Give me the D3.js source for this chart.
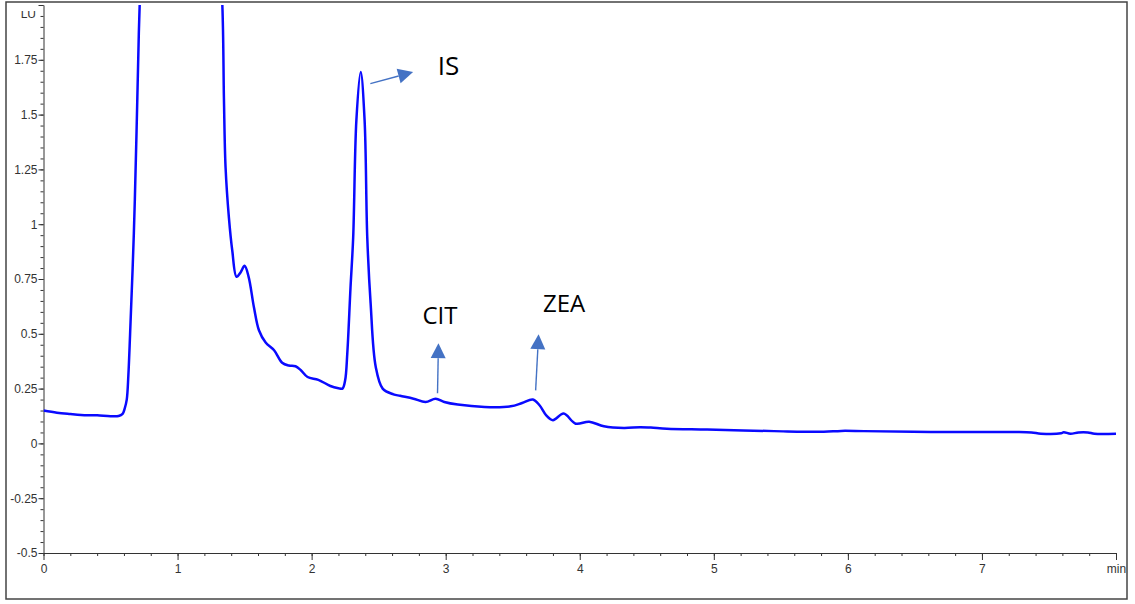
<!DOCTYPE html>
<html>
<head>
<meta charset="utf-8">
<script src="https://cdn.jsdelivr.net/npm/d3@7"></script>
<style>
  html, body { margin: 0; padding: 0; background: #fff; }
  svg { display: block; }
</style>
</head>
<body>
<svg id="chart" width="1135" height="604"></svg>
<script>
// ---- data ----
const times = [0, 0.1, 0.2, 0.28, 0.4, 0.5, 0.56, 0.59, 0.605, 0.621, 0.633, 0.646, 0.674, 0.694, 0.711, 0.72, 0.76, 0.85, 1.0, 1.15, 1.28,
  1.334, 1.346, 1.358, 1.383, 1.408, 1.44, 1.47, 1.5, 1.53, 1.57, 1.607, 1.657, 1.72, 1.78, 1.83, 1.88, 1.92, 1.97, 2.05, 2.14,
  2.2, 2.23, 2.25, 2.266, 2.29, 2.31, 2.334, 2.366, 2.395, 2.415, 2.44, 2.478, 2.53, 2.61, 2.66, 2.76, 2.85, 2.925, 2.99, 3.09,
  3.29, 3.485, 3.57, 3.65, 3.7, 3.75, 3.8, 3.88, 3.97, 4.07, 4.18, 4.33, 4.45, 4.53, 4.65, 4.95, 5.45, 5.82, 5.95, 6.12, 6.62,
  7.24, 7.37, 7.44, 7.59, 7.61, 7.66, 7.72, 7.79, 7.84, 8.0];
const signal = [0.15, 0.14, 0.134, 0.13, 0.128, 0.124, 0.125, 0.135, 0.158, 0.2, 0.31, 0.50, 0.96, 1.42, 1.87, 2.05, 2.9, 4.2, 4.8, 4.0, 2.6,
  2.0, 1.57, 1.26, 1.03, 0.88, 0.76, 0.78, 0.81, 0.76, 0.62, 0.516, 0.46, 0.425, 0.368, 0.355, 0.352, 0.334, 0.303, 0.29, 0.262,
  0.252, 0.25, 0.288, 0.41, 0.71, 0.94, 1.476, 1.694, 1.476, 0.94, 0.64, 0.35, 0.25, 0.224, 0.217, 0.204, 0.189, 0.204, 0.189, 0.177,
  0.166, 0.169, 0.184, 0.20, 0.174, 0.128, 0.106, 0.136, 0.09, 0.099, 0.078, 0.07, 0.074, 0.072, 0.067, 0.063, 0.056, 0.053, 0.057, 0.056, 0.052,
  0.052, 0.05, 0.044, 0.046, 0.051, 0.044, 0.05, 0.05, 0.044, 0.044];

const xMajorTicks = [0, 1, 2, 3, 4, 5, 6, 7, 8];
const xTickLabels = ["0", "1", "2", "3", "4", "5", "6", "7", "min"];
const yMajorTicks = [-0.5, -0.25, 0, 0.25, 0.5, 0.75, 1, 1.25, 1.5, 1.75, 2];
const yTickLabels = ["-0.5", "-0.25", "0", "0.25", "0.5", "0.75", "1", "1.25", "1.5", "1.75", ""];
const yUnit = "LU";

// annotations: label [time, value], arrow from [time, value] to tip [time, value]
const peakNames = ["IS", "CIT", "ZEA"];
const labelPos = [[2.94, 1.68], [2.957, 0.544], [3.883, 0.599]];
const arrowFrom = [[2.438, 1.641], [2.939, 0.2285], [3.671, 0.242]];
const arrowTo = [[2.757, 1.694], [2.946, 0.457], [3.693, 0.498]];

// ---- drawing ----
const svg = d3.select("#chart");
const x = d3.scaleLinear().domain([0, 8]).range([43.5, 1116]);
const y = d3.scaleLinear().domain([-0.5, 2.0]).range([553, 5]);

// outer frame
svg.append("rect").attr("x", 6).attr("y", 2).attr("width", 1121).attr("height", 597)
  .attr("fill", "none").attr("stroke", "#444").attr("stroke-width", 1.5);

const defs = svg.append("defs");
defs.append("clipPath").attr("id", "plotClip").append("rect")
  .attr("x", x(0)).attr("y", y(2)).attr("width", x(8) - x(0)).attr("height", y(-0.5) - y(2));
defs.append("clipPath").attr("id", "unitClip").append("rect")
  .attr("x", 0).attr("y", 11).attr("width", 43).attr("height", 20);

const axisColor = "#333";
const fontAxis = "'Liberation Sans', Arial, sans-serif";

// minor ticks
const xMinor = d3.range(0, 8.0001, 0.2).map(v => +v.toFixed(2));
const yMinor = d3.range(-0.5, 2.0001, 0.05).map(v => +v.toFixed(2));

svg.append("g").attr("transform", `translate(0,${y(-0.5)})`)
  .call(d3.axisBottom(x).tickValues(xMinor).tickSize(3).tickSizeOuter(0).tickFormat(""))
  .call(g => g.select(".domain").remove());
svg.append("g").attr("transform", `translate(${x(0)},0)`)
  .call(d3.axisLeft(y).tickValues(yMinor).tickSize(3).tickSizeOuter(0).tickFormat(""))
  .call(g => g.select(".domain").remove());

const xAxis = svg.append("g").attr("transform", `translate(0,${y(-0.5)})`)
  .call(d3.axisBottom(x).tickValues(xMajorTicks).tickSize(7).tickSizeOuter(0).tickPadding(4)
    .tickFormat((d, i) => xTickLabels[i]));
const yAxis = svg.append("g").attr("transform", `translate(${x(0)},0)`)
  .call(d3.axisLeft(y).tickValues(yMajorTicks).tickSize(5).tickSizeOuter(0).tickPadding(1)
    .tickFormat((d, i) => yTickLabels[i]));

[xAxis, yAxis].forEach(g => {
  g.selectAll("path, line").attr("stroke", axisColor).attr("stroke-width", 1);
  g.selectAll("text").attr("fill", axisColor).style("font-family", fontAxis).style("font-size", "12px");
});
svg.selectAll("g line").attr("stroke", axisColor);

// unit label
svg.append("text").attr("x", 36).attr("y", 17.5).attr("text-anchor", "end")
  .attr("clip-path", "url(#unitClip)")
  .style("font-family", fontAxis).style("font-size", "12px").attr("fill", axisColor).text(yUnit);

// chromatogram trace
const pts = times.map((t, i) => [t, signal[i]]);
const line = d3.line().x(d => x(d[0])).y(d => y(d[1])).curve(d3.curveCatmullRom.alpha(0.5));
svg.append("path").datum(pts).attr("clip-path", "url(#plotClip)")
  .attr("d", line).attr("fill", "none").attr("stroke", "#0a0aff")
  .attr("stroke-width", 2.5).attr("stroke-linejoin", "round");

// annotations
const annColor = "#4472C4";
peakNames.forEach((name, i) => {
  const x0 = x(arrowFrom[i][0]), y0 = y(arrowFrom[i][1]);
  const x1 = x(arrowTo[i][0]), y1 = y(arrowTo[i][1]);
  const dx = x1 - x0, dy = y1 - y0, len = Math.hypot(dx, dy);
  const ux = dx / len, uy = dy / len;
  const headL = 15, headW = 7.5;
  const bx = x1 - ux * headL, by = y1 - uy * headL;
  svg.append("line").attr("x1", x0).attr("y1", y0).attr("x2", bx).attr("y2", by)
    .attr("stroke", annColor).attr("stroke-width", 1.4);
  svg.append("path")
    .attr("d", `M${x1},${y1}L${bx - uy * headW},${by + ux * headW}L${bx + uy * headW},${by - ux * headW}Z`)
    .attr("fill", annColor);
  const isFirst = i === 0;
  svg.append("text")
    .attr("x", x(labelPos[i][0])).attr("y", y(labelPos[i][1]))
    .attr("text-anchor", isFirst ? "start" : "middle")
    .style("font-family", "'Open Sans', 'Liberation Sans', sans-serif")
    .style("font-size", isFirst ? "26px" : "24px").attr("fill", "#000").text(name);
});
</script>
</body>
</html>
